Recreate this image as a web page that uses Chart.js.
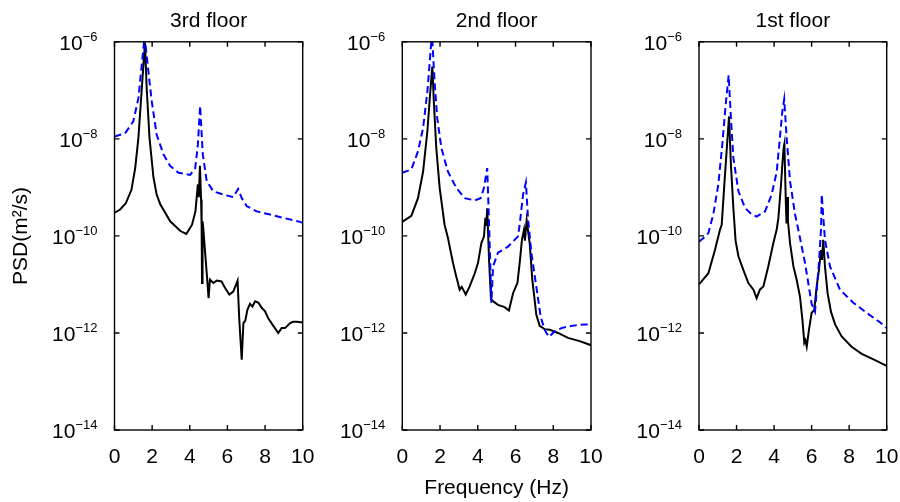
<!DOCTYPE html>
<html lang="en">
<head>
  <meta charset="UTF-8">
  <title>PSD per floor</title>
  <style>
    body { margin: 0; background: #fff; }
    #wrap { position: relative; width: 900px; height: 502px; }
    canvas { position: absolute; top: 0; }
  </style>
</head>
<body>
<div id="wrap">
  <canvas id="c3" width="320" height="502" style="left:0px"></canvas>
  <canvas id="c2" width="290" height="502" style="left:320px"></canvas>
  <canvas id="c1" width="290" height="502" style="left:610px"></canvas>
</div>

<script src="https://cdn.jsdelivr.net/npm/chart.js"></script>
<script>
// axis ticks
const xTicks = [0, 2, 4, 6, 8, 10];
const yTicks = [1e-14, 1e-12, 1e-10, 1e-8, 1e-6];
const yTickExp = ['\u221214', '\u221212', '\u221210', '\u22128', '\u22126'];

// 3rd floor - solid (black) and dashed (blue)
const f3Solid = [0, 0.3, 0.6, 0.9, 1.1, 1.27, 1.45, 1.62, 1.71, 1.86, 2.07, 2.24, 2.43, 2.96, 3.5, 3.82, 4.12, 4.3, 4.43, 4.48, 4.54, 4.6, 4.63, 4.65, 4.68, 4.72, 4.9, 5.0, 5.07, 5.25, 5.43, 5.69, 5.87, 6.1, 6.31, 6.49, 6.54, 6.63, 6.76, 6.85, 6.95, 7.06, 7.2, 7.33, 7.47, 7.65, 7.82, 8.0, 8.17, 8.44, 8.7, 8.88, 9.06, 9.33, 9.5, 9.68, 10];
const p3Solid = [3.0e-10, 3.5e-10, 4.7e-10, 8.9e-10, 2.5e-9, 1.05e-8, 1.1e-7, 9.5e-7, 1.1e-7, 1.05e-8, 1.6e-9, 7.1e-10, 4.5e-10, 2.0e-10, 1.26e-10, 1.1e-10, 1.7e-10, 3.2e-10, 1.15e-9, 6.3e-10, 2.8e-9, 5.6e-10, 1.6e-10, 1.07e-11, 2.0e-10, 1.4e-10, 1.7e-11, 5.2e-12, 1.26e-11, 1.07e-11, 1.2e-11, 1.15e-11, 8.5e-12, 6.2e-12, 7.1e-12, 1.07e-11, 1.2e-11, 1.9e-12, 2.8e-13, 1.6e-12, 1.8e-12, 3.0e-12, 4.0e-12, 3.5e-12, 4.5e-12, 4.2e-12, 3.3e-12, 2.8e-12, 2.0e-12, 1.4e-12, 1.0e-12, 1.26e-12, 1.26e-12, 1.6e-12, 1.7e-12, 1.7e-12, 1.65e-12];
const f3Dash = [0, 0.56, 1.0, 1.27, 1.45, 1.6, 1.8, 1.98, 2.24, 2.6, 2.96, 3.4, 4.02, 4.29, 4.43, 4.55, 4.69, 4.9, 5.25, 5.78, 6.31, 6.57, 6.76, 7.03, 7.56, 8.27, 8.98, 9.86, 10];
const p3Dash = [1.12e-8, 1.3e-8, 2.3e-8, 6.9e-8, 3.4e-7, 1.3e-6, 2.45e-7, 5.9e-8, 1.23e-8, 4.8e-9, 2.75e-9, 2.0e-9, 1.8e-9, 2.5e-9, 7.6e-9, 4.8e-8, 4.8e-9, 1.35e-9, 8.3e-10, 7.1e-10, 6.3e-10, 9.3e-10, 6.0e-10, 4.1e-10, 3.2e-10, 2.75e-10, 2.35e-10, 1.95e-10, 1.86e-10];

// 2nd floor
const f2Solid = [0, 0.48, 0.83, 1.1, 1.33, 1.47, 1.59, 1.68, 1.8, 1.98, 2.24, 2.42, 2.51, 2.69, 2.86, 3.04, 3.15, 3.22, 3.36, 3.57, 3.84, 4.01, 4.19, 4.33, 4.4, 4.45, 4.5, 4.6, 4.7, 4.81, 5.07, 5.42, 5.65, 5.87, 6.1, 6.22, 6.34, 6.45, 6.5, 6.59, 6.75, 6.89, 7.01, 7.1, 7.28, 7.54, 7.81, 8.25, 8.78, 9.4, 10];
const p2Solid = [1.95e-10, 2.6e-10, 6.0e-10, 2.1e-9, 1.45e-8, 8.1e-8, 3.1e-7, 5.0e-8, 6.5e-9, 9.8e-10, 1.7e-10, 9.1e-11, 6.0e-11, 2.75e-11, 1.45e-11, 7.8e-12, 8.9e-12, 7.9e-12, 6.2e-12, 9.1e-12, 1.7e-11, 2.75e-11, 7.1e-11, 9.8e-11, 2.35e-10, 1.6e-10, 3.7e-10, 3.0e-11, 5.0e-12, 4.5e-12, 3.8e-12, 3.4e-12, 2.9e-12, 6.6e-12, 1.07e-11, 2.75e-11, 8.3e-11, 1.35e-10, 8e-11, 2.1e-10, 7.1e-11, 1.26e-11, 4.9e-12, 2.4e-12, 1.4e-12, 1.2e-12, 1.17e-12, 1.0e-12, 7.9e-13, 6.8e-13, 5.6e-13];
const f2Dash = [0, 0.48, 0.83, 1.1, 1.33, 1.47, 1.57, 1.71, 1.85, 2.07, 2.42, 2.86, 3.3, 3.84, 4.15, 4.33, 4.5, 4.6, 4.72, 4.81, 5.07, 5.6, 6.13, 6.22, 6.4, 6.55, 6.66, 6.84, 7.1, 7.33, 7.54, 7.76, 8.07, 8.43, 8.96, 9.66, 10];
const p2Dash = [2.0e-9, 2.35e-9, 5.5e-9, 1.66e-8, 9.5e-8, 4.6e-7, 1.5e-6, 1.55e-7, 2.7e-8, 6.5e-9, 2.1e-9, 9.8e-10, 6.0e-10, 5.4e-10, 6.0e-10, 9.8e-10, 2.5e-9, 1.7e-10, 4.2e-12, 2.35e-11, 4.5e-11, 6.0e-11, 9.8e-11, 1.7e-10, 7.1e-10, 1.26e-9, 2.35e-10, 4.5e-11, 9.1e-12, 2.2e-12, 1.17e-12, 8.3e-13, 1.07e-12, 1.26e-12, 1.4e-12, 1.5e-12, 1.5e-12];

// 1st floor
const f1Solid = [0, 0.5, 0.85, 1.12, 1.21, 1.35, 1.47, 1.6, 1.7, 1.83, 1.95, 2.1, 2.36, 2.63, 2.9, 3.07, 3.25, 3.43, 3.69, 3.96, 4.14, 4.23, 4.37, 4.44, 4.51, 4.55, 4.62, 4.66, 4.7, 4.74, 4.85, 5.03, 5.2, 5.38, 5.51, 5.61, 5.67, 5.74, 5.86, 6.0, 6.14, 6.27, 6.39, 6.5, 6.55, 6.62, 6.71, 6.85, 7.03, 7.25, 7.6, 8.13, 8.67, 9.38, 10];
const p1Solid = [1.0e-11, 1.7e-11, 5.1e-11, 1.35e-10, 1.7e-10, 1.15e-9, 5.5e-9, 2.9e-8, 2.95e-9, 3.8e-10, 7.9e-11, 3.8e-11, 2.0e-11, 1.07e-11, 7.8e-12, 5.2e-12, 7.9e-12, 9.1e-12, 2.35e-11, 7.1e-11, 1.35e-10, 2.35e-10, 1.15e-9, 2.95e-9, 6.5e-9, 7.9e-9, 6.0e-10, 1.8e-10, 6.3e-10, 2.0e-10, 7.1e-11, 2.35e-11, 1.26e-11, 5.6e-12, 1.86e-12, 6.3e-13, 7.1e-13, 5.2e-13, 1.17e-12, 2.6e-12, 3.0e-12, 9.1e-12, 2.0e-11, 5.1e-11, 3.2e-11, 8.3e-11, 2.35e-11, 6.6e-12, 2.75e-12, 1.5e-12, 8.5e-13, 5.2e-13, 3.7e-13, 2.75e-13, 2.1e-13];
const f1Dash = [0, 0.3, 0.5, 0.76, 1.03, 1.24, 1.42, 1.58, 1.7, 1.83, 2.1, 2.45, 2.81, 3.07, 3.52, 3.87, 4.14, 4.31, 4.44, 4.54, 4.67, 4.85, 5.12, 5.29, 5.65, 6.0, 6.18, 6.39, 6.5, 6.54, 6.62, 6.71, 6.98, 7.51, 8.22, 8.93, 9.64, 10];
const p1Dash = [7.6e-11, 9.5e-11, 1.15e-10, 2.75e-10, 1.15e-9, 7.6e-9, 5.0e-8, 2.05e-7, 2.7e-8, 4.1e-9, 8.3e-10, 3.8e-10, 2.75e-10, 2.5e-10, 3.2e-10, 7.1e-10, 2.1e-9, 1.05e-8, 3.7e-8, 6.6e-8, 1.05e-8, 1.35e-9, 2.75e-10, 1.35e-10, 2.75e-11, 4.0e-12, 2.75e-12, 2.75e-11, 1.35e-10, 7.1e-10, 2.5e-10, 8.3e-11, 2.35e-11, 7.8e-12, 4.2e-12, 2.6e-12, 1.66e-12, 1.26e-12];

const FONT = "'Liberation Sans', Arial, Helvetica, sans-serif";
Chart.defaults.font.family = FONT;
Chart.defaults.font.size = 21;
Chart.defaults.color = '#000';

const pts = (f, p) => f.map((v, i) => ({ x: v, y: p[i] }));

// box with inward ticks on all four sides, and 10^n labels
const framePlugin = {
  id: 'frame',
  afterDraw(chart) {
    const { ctx, chartArea: a, scales: { x, y } } = chart;
    ctx.save();
    ctx.strokeStyle = '#000';
    ctx.lineWidth = 1.4;
    ctx.strokeRect(a.left, a.top, a.width, a.height);
    ctx.beginPath();
    xTicks.forEach(v => {
      const px = x.getPixelForValue(v);
      ctx.moveTo(px, a.bottom); ctx.lineTo(px, a.bottom - 5);
      ctx.moveTo(px, a.top); ctx.lineTo(px, a.top + 5);
    });
    yTicks.forEach(v => {
      const py = y.getPixelForValue(v);
      ctx.moveTo(a.left, py); ctx.lineTo(a.left + 5, py);
      ctx.moveTo(a.right, py); ctx.lineTo(a.right - 5, py);
    });
    ctx.stroke();

    ctx.fillStyle = '#000';
    ctx.textAlign = 'right';
    ctx.textBaseline = 'alphabetic';
    yTicks.forEach((v, i) => {
      const py = y.getPixelForValue(v);
      const xr = a.left - 17;
      ctx.font = '13px ' + FONT;
      const w = ctx.measureText(yTickExp[i]).width;
      ctx.fillText(yTickExp[i], xr, py - 1);
      ctx.font = '21px ' + FONT;
      ctx.fillText('10', xr - w, py + 8);
    });
    ctx.restore();
  }
};

function makePanel(id, title, fs, ps, fd, pd, opt) {
  new Chart(document.getElementById(id), {
    type: 'line',
    data: {
      datasets: [
        {
          data: pts(fd, pd),
          borderColor: '#0000ff',
          borderWidth: 2,
          borderDash: [7, 4],
          pointRadius: 0,
          tension: 0
        },
        {
          data: pts(fs, ps),
          borderColor: '#000',
          borderWidth: 2,
          pointRadius: 0,
          tension: 0
        }
      ]
    },
    options: {
      responsive: false,
      animation: false,
      layout: { padding: opt.padding },
      plugins: {
        legend: { display: false },
        tooltip: { enabled: false },
        title: {
          display: true,
          text: title,
          fullSize: false,
          font: { size: 21, weight: 'normal' },
          color: '#000',
          padding: { top: 8.6, bottom: 8 }
        }
      },
      scales: {
        x: {
          type: 'linear',
          min: 0,
          max: 10,
          grid: { display: false, drawTicks: false },
          border: { display: false },
          afterBuildTicks: s => { s.ticks = xTicks.map(v => ({ value: v })); },
          ticks: { padding: 0, font: { size: 21, lineHeight: 2.58 }, color: '#000' },
          title: {
            display: !!opt.xTitle,
            text: opt.xTitle || '',
            font: { size: 21, lineHeight: 0.4 },
            color: '#000',
            padding: 0
          }
        },
        y: {
          type: 'logarithmic',
          min: 1e-14,
          max: 1e-6,
          grid: { display: false, drawTicks: false },
          border: { display: false },
          afterBuildTicks: s => { s.ticks = yTicks.map(v => ({ value: v })); },
          ticks: { display: false },
          title: {
            display: !!opt.yTitle,
            text: opt.yTitle || '',
            font: { size: 21 },
            color: '#000',
            padding: { top: 8.9, bottom: 80.4 }
          }
        }
      }
    },
    plugins: [framePlugin]
  });
}

makePanel('c3', '3rd floor', f3Solid, p3Solid, f3Dash, p3Dash,
  { padding: { left: 0, right: 17.3, top: 0, bottom: 17.8 }, yTitle: 'PSD(m\u00b2/s)' });
makePanel('c2', '2nd floor', f2Solid, p2Solid, f2Dash, p2Dash,
  { padding: { left: 82.3, right: 19, top: 0, bottom: 9.4 }, xTitle: 'Frequency (Hz)' });
makePanel('c1', '1st floor', f1Solid, p1Solid, f1Dash, p1Dash,
  { padding: { left: 89, right: 13.3, top: 0, bottom: 17.8 } });
</script>
</body>
</html>
